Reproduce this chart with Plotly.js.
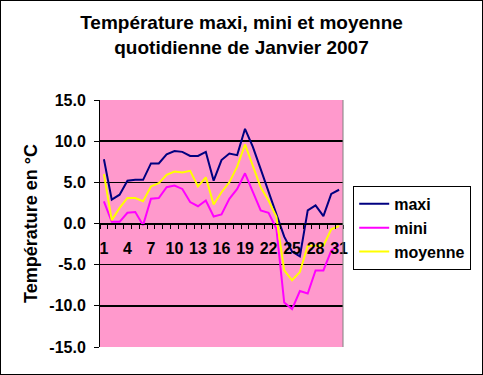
<!DOCTYPE html>
<html>
<head>
<meta charset="utf-8">
<script src="https://cdn.plot.ly/plotly-3.0.1.min.js"></script>
<style>
  html, body { margin: 0; padding: 0; background: #fff; }
  #wrap { position: relative; width: 483px; height: 375px; }
  #chart { width: 483px; height: 375px; }
  #frame { position: absolute; left: 0; top: 0; width: 483px; height: 375px; box-sizing: border-box; border: 1px solid #000; pointer-events: none; }
</style>
</head>
<body>
<div id="wrap"><div id="chart"></div><div id="frame"></div></div>
<script>
const days = [1,2,3,4,5,6,7,8,9,10,11,12,13,14,15,16,17,18,19,20,21,22,23,24,25,26,27,28,29,30,31];
const maxi = [7.8, 2.9, 3.5, 5.2, 5.3, 5.3, 7.3, 7.3, 8.4, 8.8, 8.7, 8.2, 8.2, 8.7, 5.2, 7.7, 8.5, 8.3, 11.5, 9.3, 6.6, 3.8, 1.2, -1.6, -3.4, -4.0, 1.6, 2.2, 0.9, 3.6, 4.1];
const mini = [2.7, 0.2, 0.2, 1.3, 1.4, -0.2, 3.0, 3.1, 4.4, 4.6, 4.2, 2.6, 2.1, 2.8, 0.85, 1.1, 3.0, 4.2, 6.1, 3.8, 1.6, 1.3, -0.6, -9.6, -10.4, -8.2, -8.5, -5.7, -5.7, -3.3, -2.6];
const moyenne = [6.0, 0.4, 1.9, 3.1, 3.1, 2.7, 4.5, 4.9, 5.9, 6.3, 6.2, 6.4, 4.5, 5.6, 2.3, 3.8, 5.0, 6.9, 9.6, 6.9, 4.4, 2.8, 0.8, -5.7, -6.9, -5.9, -2.7, -2.7, -2.7, -0.7, -0.3];
const xTickVals = [1,4,7,10,13,16,19,22,25,28,31];
const xTickText = ['1','4','7','10','13','16','19','22','25','28','31'];
const yTickVals = [-15,-10,-5,0,5,10,15];
const yTickText = ['-15.0','-10.0','-5.0','0.0','5.0','10.0','15.0'];

const FONT = 'Arial, "Liberation Sans", sans-serif';

const traces = [
  {x: days, y: maxi, name: 'maxi', type: 'scatter', mode: 'lines', line: {color: '#000080', width: 2}},
  {x: days, y: mini, name: 'mini', type: 'scatter', mode: 'lines', line: {color: '#FF00FF', width: 2}},
  {x: days, y: moyenne, name: 'moyenne', type: 'scatter', mode: 'lines', line: {color: '#FFFF00', width: 2}}
];

const layout = {
  width: 483, height: 375,
  margin: {l: 100, r: 131, t: 100, b: 28, pad: 0},
  paper_bgcolor: '#ffffff',
  plot_bgcolor: '#FF99CC',
  font: {family: FONT, color: '#000'},
  title: {
    text: 'Température maxi, mini et moyenne<br>quotidienne de Janvier 2007',
    font: {family: FONT, size: 19, weight: 'bold', color: '#000'},
    x: 0.5, xref: 'container', xanchor: 'center',
    y: 0.922, yref: 'container', yanchor: 'top'
  },
  xaxis: {
    type: 'linear', range: [0.5, 31.5],
    tickmode: 'array', tickvals: xTickVals, ticktext: xTickText,
    ticks: '', showgrid: false, zeroline: false,
    showline: true, linecolor: '#000', linewidth: 1.5,
    anchor: 'free', position: 0.5,
    tickfont: {family: FONT, size: 16, weight: 'bold', color: '#000'},
    ticklabelstandoff: 10,
    minor: {ticks: 'outside', tickmode: 'linear', tick0: 0.5, dtick: 1, ticklen: 4, tickwidth: 1, tickcolor: '#000', showgrid: false}
  },
  yaxis: {
    range: [-15, 15],
    tickmode: 'array', tickvals: yTickVals, ticktext: yTickText,
    ticks: 'outside', ticklen: 5, tickwidth: 1, tickcolor: '#000',
    ticklabelstandoff: 5,
    showline: true, linecolor: '#000', linewidth: 1,
    showgrid: true, gridcolor: '#000', gridwidth: 1.5,
    zeroline: false,
    tickfont: {family: FONT, size: 16, weight: 'bold', color: '#000'},
    title: {text: 'Température en °C', font: {family: FONT, size: 18, weight: 'bold', color: '#000'}, standoff: 7}
  },
  shapes: [
    {type: 'line', xref: 'paper', yref: 'paper', x0: 1, x1: 1, y0: 0, y1: 1, line: {color: '#808080', width: 1}}
  ],
  showlegend: true,
  legend: {
    x: 1.042, xanchor: 'left', y: 0.652, yanchor: 'top',
    bgcolor: '#ffffff', bordercolor: '#000', borderwidth: 1,
    font: {family: FONT, size: 16, weight: 'bold', color: '#000'}
  }
};

Plotly.newPlot('chart', traces, layout, {displayModeBar: false, staticPlot: true});
</script>
</body>
</html>
